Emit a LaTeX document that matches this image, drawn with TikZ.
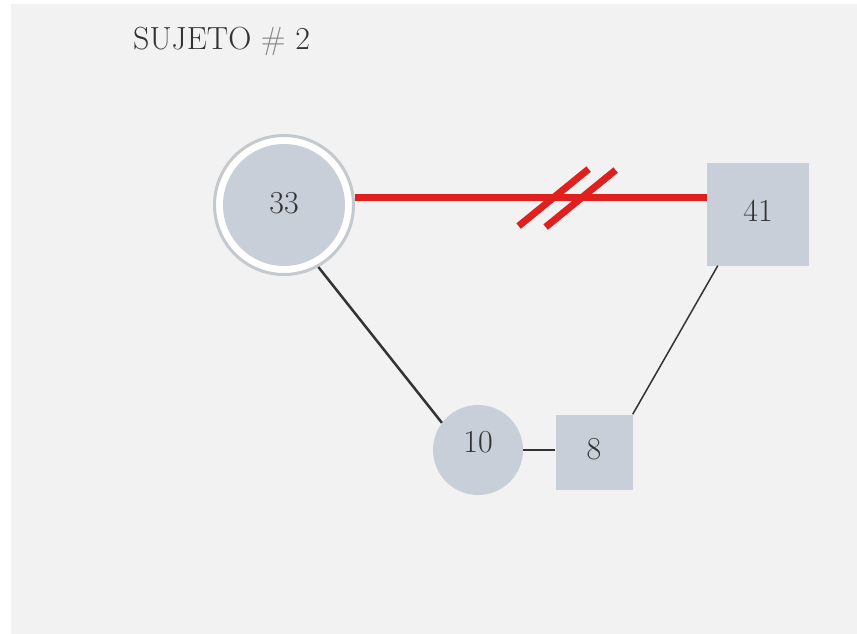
\documentclass[tikz,border=0pt]{standalone}
\usepackage{fontspec}
\setmainfont{Latin Modern Roman}
\usetikzlibrary{calc}
\definecolor{bg}{HTML}{F2F2F2}
\definecolor{nodefill}{HTML}{C8CFD8}
\definecolor{ringcol}{HTML}{C3C9CC}
\definecolor{cutred}{HTML}{E0201E}
\definecolor{ink}{HTML}{333333}
\definecolor{hashcol}{HTML}{858585}
\begin{document}
\begin{tikzpicture}[x=1pt,y=-1pt,
  num/.style={font=\fontsize{32}{36}\selectfont, text=ink},
  cnode/.style={circle, fill=nodefill, inner sep=0pt, num},
  snode/.style={rectangle, fill=nodefill, inner sep=0pt, num},
  tie/.style={draw=ink, line cap=butt},
  cut/.style={draw=cutred, line width=7pt}]
\useasboundingbox (0,0) rectangle (857,634);
\fill[bg] (11,4) rectangle (857,634);

\node[anchor=base west, inner sep=0pt, text=ink, font=\fontsize{32}{38}\selectfont] (title) at (133,50) {SUJETO {\color{hashcol}\#} 2};

\node[circle, draw=ringcol, line width=3pt, fill=white, minimum size=139pt, inner sep=0pt] (n33) at (284,205) {};
\node[cnode, minimum size=122pt] (c33) at (n33.center) {\raisebox{4pt}{33}};
\node[snode, minimum width=102pt, minimum height=103pt] (n41) at (758,214) {\raisebox{6pt}{41}};
\node[cnode, minimum size=90pt] (n10) at (478,450) {\raisebox{16pt}{10}};
\node[snode, minimum width=77pt, minimum height=75pt] (n8) at (594,452) {\raisebox{6pt}{8}};

% connectors
\draw[tie, line width=2.5pt] (n33.-61) -- (n10.143);
\draw[tie, line width=2pt] (n10.east) -- (n10.east -| n8.west);
\draw[tie, line width=1.5pt] (n8.north east) -- ([xshift=11pt]n41.south west);

% broken relationship
\coordinate (ra) at (n33.6);
\coordinate (rb) at (n33.6 -| n41.west);
\draw[cut] (ra) -- (rb);
\coordinate (m1) at ($(ra)!0.565!(rb)$);
\coordinate (m2) at ($(m1)+(27,1)$);
\draw[cut] ($(m1)+(-35,28.5)$) -- ($(m1)+(35,-28.5)$);
\draw[cut] ($(m2)+(-35,28.5)$) -- ($(m2)+(35,-28.5)$);
\end{tikzpicture}
\end{document}
